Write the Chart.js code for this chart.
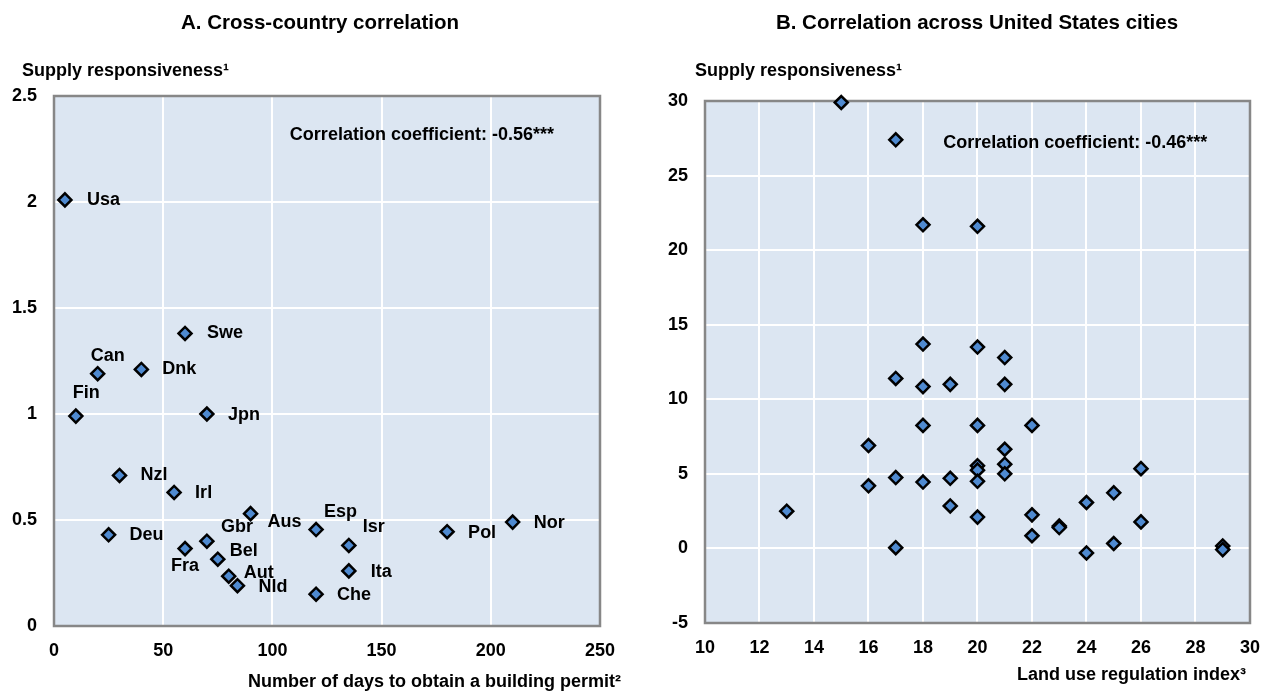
<!DOCTYPE html>
<html>
<head>
<meta charset="utf-8">
<script src="https://cdn.jsdelivr.net/npm/chart.js@4.4.1/dist/chart.umd.min.js"></script>
<style>
  body { margin: 0; background: #fff; }
  #wrap { display: flex; width: 1274px; height: 691px; }
  canvas { display: block; }
</style>
</head>
<body>
<div id="wrap">
  <canvas id="chartA" width="637" height="691"></canvas>
  <canvas id="chartB" width="637" height="691"></canvas>
</div>
<script>
// Panel A: cross-country
const countries = ["Usa", "Swe", "Can", "Dnk", "Fin", "Jpn", "Nzl", "Irl", "Aus", "Deu", "Gbr",
  "Fra", "Bel", "Aut", "Nld", "Che", "Esp", "Isr", "Ita", "Pol", "Nor"];
const permitDays = [5, 60, 20, 40, 10, 70, 30, 55, 90, 25, 70, 60, 75, 80, 84, 120, 120, 135, 135, 180, 210];
const supplyA = [2.01, 1.38, 1.19, 1.21, 0.99, 1.0, 0.71, 0.63, 0.53, 0.43, 0.4,
  0.365, 0.315, 0.235, 0.19, 0.15, 0.455, 0.38, 0.26, 0.445, 0.49];
const xTicksA = [0, 50, 100, 150, 200, 250];
const yTicksA = [0, 0.5, 1, 1.5, 2, 2.5];

// Panel B: US cities
const landUse = [15, 17, 18, 20, 18, 20, 17, 18, 19, 21, 21, 16, 16, 17, 18, 19, 19, 18, 17, 13,
  20, 22, 21, 21, 21, 20, 20, 20, 20, 22, 22, 23, 23, 24, 24, 25, 25, 26, 26, 29, 29];
const supplyB = [29.9, 27.4, 21.7, 21.6, 13.7, 13.5, 11.4, 10.85, 11.0, 12.8, 11.0, 6.9, 4.2, 4.75, 4.45, 4.7, 2.85, 8.25, 0.05, 2.5,
  8.25, 8.25, 6.65, 5.65, 5.0, 5.55, 5.25, 4.5, 2.1, 2.25, 0.85, 1.5, 1.4, 3.08, -0.3, 3.73, 0.33, 5.35, 1.78, 0.17, -0.08];
const xTicksB = [10, 12, 14, 16, 18, 20, 22, 24, 26, 28, 30];
const yTicksB = [-5, 0, 5, 10, 15, 20, 25, 30];

// where each country name sits next to its marker (px offset)
const labelOffsets = [[22, 0], [22, 0], [-7, -18], [21, 0], [-3, -23], [21, 1], [21, 0], [21, 1], [17, 8], [21, 0], [14, -14],
  [-14, 17], [12, -8], [15, -3], [21, 1], [21, 1], [8, -18], [14, -18], [22, 1], [21, 1], [21, 1]];

const FONT = "'Liberation Sans', Arial, sans-serif";
Chart.defaults.font.family = FONT;
Chart.defaults.color = "#000";

const panelPlugin = {
  id: "panel",
  beforeDraw(chart) {
    const a = chart.chartArea;
    const ctx = chart.ctx;
    ctx.save();
    ctx.fillStyle = "#dce6f2";
    ctx.fillRect(a.left, a.top, a.right - a.left, a.bottom - a.top);
    ctx.restore();
  },
  beforeDatasetsDraw(chart) {
    const a = chart.chartArea;
    const ctx = chart.ctx;
    ctx.save();
    ctx.strokeStyle = "#878787";
    ctx.lineWidth = 2.5;
    ctx.strokeRect(a.left, a.top, a.right - a.left, a.bottom - a.top);
    ctx.restore();
  },
  afterDraw(chart, args, opts) {
    const a = chart.chartArea;
    const ctx = chart.ctx;
    ctx.save();
    ctx.fillStyle = "#000";
    ctx.textBaseline = "middle";

    ctx.font = "bold 20.5px " + FONT;
    ctx.textAlign = "center";
    ctx.fillText(opts.title, opts.titleX, 23);

    ctx.font = "bold 18px " + FONT;
    ctx.textAlign = "left";
    ctx.fillText(opts.yTitle, a.left + opts.yTitleDx, 71);

    ctx.textAlign = "right";
    ctx.fillText(opts.xTitle, a.right + opts.xTitleDx, opts.xTitleY);

    ctx.textAlign = "left";
    const cx = chart.scales.x.getPixelForValue(opts.corrAt[0]);
    const cy = chart.scales.y.getPixelForValue(opts.corrAt[1]);
    ctx.fillText(opts.corr, cx, cy);

    if (opts.labels) {
      const meta = chart.getDatasetMeta(0);
      meta.data.forEach((pt, i) => {
        const off = opts.offsets[i];
        ctx.fillText(opts.labels[i], pt.x + off[0], pt.y + off[1]);
      });
    }
    ctx.restore();
  }
};

function makeChart(id, xs, ys, cfg) {
  const pts = xs.map((x, i) => ({ x: x, y: ys[i] }));
  return new Chart(document.getElementById(id), {
    type: "scatter",
    data: {
      datasets: [{
        data: pts,
        pointStyle: "rectRot",
        pointRadius: 6.5,
        pointBorderWidth: 2.5,
        pointBorderColor: "#000",
        pointBackgroundColor: "#4f8ad0",
        clip: false
      }]
    },
    options: {
      responsive: false,
      animation: false,
      events: [],
      devicePixelRatio: 1,
      layout: { padding: cfg.padding },
      plugins: {
        legend: { display: false },
        tooltip: { enabled: false },
        panel: cfg.panel
      },
      scales: {
        x: {
          type: "linear",
          min: cfg.xTicks[0],
          max: cfg.xTicks[cfg.xTicks.length - 1],
          afterBuildTicks: s => { s.ticks = cfg.xTicks.map(v => ({ value: v })); },
          afterFit: s => { s.height = cfg.xHeight; },
          grid: { color: "#fff", lineWidth: 2, drawTicks: false },
          border: { display: false },
          ticks: { font: { size: 18, weight: "bold" }, padding: 14, maxRotation: 0, callback: v => String(v) }
        },
        y: {
          type: "linear",
          min: cfg.yTicks[0],
          max: cfg.yTicks[cfg.yTicks.length - 1],
          afterBuildTicks: s => { s.ticks = cfg.yTicks.map(v => ({ value: v })); },
          afterFit: s => { s.width = cfg.yWidth; },
          grid: { color: "#fff", lineWidth: 2, drawTicks: false },
          border: { display: false },
          ticks: { font: { size: 18, weight: "bold" }, padding: 17, callback: v => String(v) }
        }
      }
    },
    plugins: [panelPlugin]
  });
}

makeChart("chartA", permitDays, supplyA, {
  xTicks: xTicksA, yTicks: yTicksA,
  padding: { left: 0, right: 37, top: 96, bottom: 0 },
  xHeight: 65, yWidth: 54,
  panel: {
    title: "A. Cross-country correlation", titleX: 320,
    yTitle: "Supply responsiveness\u00B9", yTitleDx: -32,
    xTitle: "Number of days to obtain a building permit\u00B2", xTitleDx: 21, xTitleY: 682,
    corr: "Correlation coefficient: -0.56***", corrAt: [108, 2.316],
    labels: countries, offsets: labelOffsets
  }
});

makeChart("chartB", landUse, supplyB, {
  xTicks: xTicksB, yTicks: yTicksB,
  padding: { left: 0, right: 12, top: 101, bottom: 0 },
  xHeight: 68, yWidth: 68,
  panel: {
    title: "B. Correlation across United States cities", titleX: 340,
    yTitle: "Supply responsiveness\u00B9", yTitleDx: -10,
    xTitle: "Land use regulation index\u00B3", xTitleDx: -4, xTitleY: 675,
    corr: "Correlation coefficient: -0.46***", corrAt: [18.74, 27.16]
  }
});
</script>
</body>
</html>
